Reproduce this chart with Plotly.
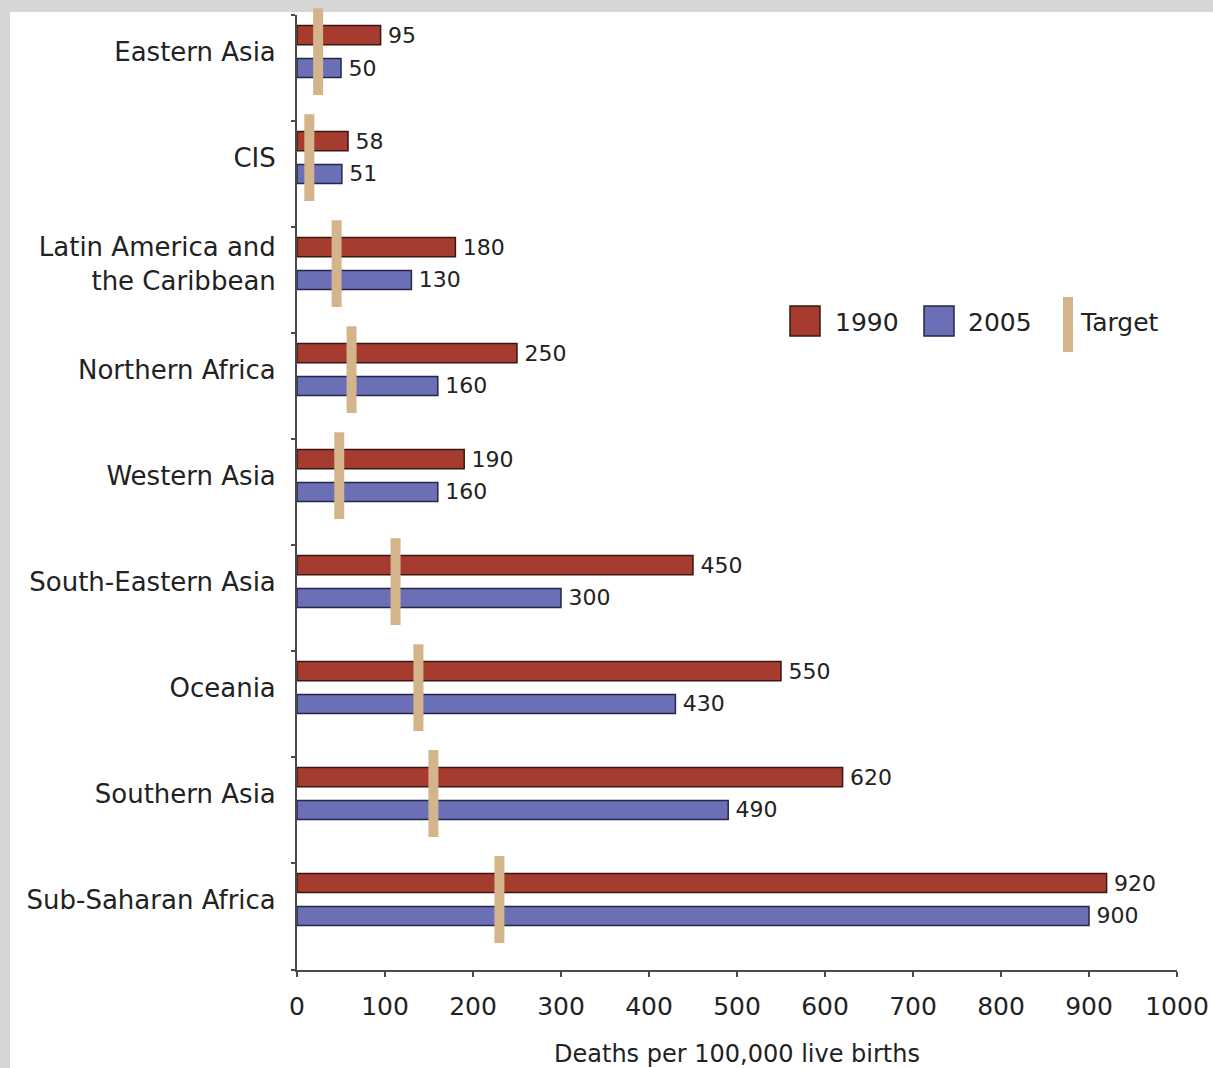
import plotly.graph_objects as go

# Maternal mortality ratio by region
regions = [
    "Eastern Asia",
    "CIS",
    "Latin America and<br>the Caribbean",
    "Northern Africa",
    "Western Asia",
    "South-Eastern Asia",
    "Oceania",
    "Southern Asia",
    "Sub-Saharan Africa",
]
mmr_1990 = [95, 58, 180, 250, 190, 450, 550, 620, 920]
mmr_2005 = [50, 51, 130, 160, 160, 300, 430, 490, 900]
mdg_target = [24, 14, 45, 62, 48, 112, 138, 155, 230]
x_ticks = [0, 100, 200, 300, 400, 500, 600, 700, 800, 900, 1000]

RED = "#a63b2f"
BLUE = "#6b6fb6"
TAN = "#d4b48a"
FONT = "DejaVu Sans"
THIN = "\u2009"  # small gap between bar end and its value

pos = list(range(len(regions)))
off = 0.155
bar_w = 0.18

fig = go.Figure()

fig.add_trace(go.Bar(
    y=[p - off for p in pos], x=mmr_1990, orientation="h", width=bar_w,
    marker=dict(color=RED, line=dict(color="#3a1812", width=1.5)),
    text=[THIN + str(v) for v in mmr_1990], textposition="outside",
    constraintext="none", cliponaxis=False,
    textfont=dict(family=FONT, size=22, color="#222"),
    name="1990", showlegend=False,
))
fig.add_trace(go.Bar(
    y=[p + off for p in pos], x=mmr_2005, orientation="h", width=bar_w,
    marker=dict(color=BLUE, line=dict(color="#26264a", width=1.5)),
    text=[THIN + str(v) for v in mmr_2005], textposition="outside",
    constraintext="none", cliponaxis=False,
    textfont=dict(family=FONT, size=22, color="#222"),
    name="2005", showlegend=False,
))
fig.add_trace(go.Scatter(
    x=mdg_target, y=pos, mode="markers",
    marker=dict(symbol="line-ns", size=62, color=TAN,
                line=dict(color=TAN, width=10)),
    name="Target", showlegend=False, cliponaxis=False,
))

# Hand-built legend: swatches and labels
def px_x(v):
    return (v - 297) / 880.0

def px_y(v):
    return (970 - v) / 955.0

shapes = [
    # white chart panel over the grey backdrop
    dict(type="rect", xref="paper", yref="paper", layer="below",
         x0=px_x(10), x1=1.2, y0=-0.3, y1=px_y(12),
         fillcolor="white", line=dict(width=0)),
    dict(type="rect", xref="paper", yref="paper",
         x0=px_x(790), x1=px_x(820), y0=px_y(336), y1=px_y(306),
         fillcolor=RED, line=dict(color="#3a1812", width=1.5)),
    dict(type="rect", xref="paper", yref="paper",
         x0=px_x(924), x1=px_x(954), y0=px_y(336), y1=px_y(306),
         fillcolor=BLUE, line=dict(color="#26264a", width=1.5)),
    dict(type="rect", xref="paper", yref="paper",
         x0=px_x(1063), x1=px_x(1073), y0=px_y(352), y1=px_y(297),
         fillcolor=TAN, line=dict(width=0)),
]
annotations = []
for label, left in [("1990", 833), ("2005", 966), ("Target", 1078)]:
    annotations.append(dict(
        xref="paper", yref="paper", x=px_x(left), y=px_y(322),
        xanchor="left", yanchor="middle", text=label, showarrow=False,
        font=dict(family=FONT, size=25, color="#222"),
    ))

fig.update_layout(
    width=1213, height=1068,
    margin=dict(l=297, r=36, t=15, b=98),
    paper_bgcolor="#d6d6d6",
    plot_bgcolor="rgba(0,0,0,0)",
    barmode="overlay",
    shapes=shapes,
    annotations=annotations,
    xaxis=dict(
        range=[0, 1000], tickvals=x_ticks, showgrid=False, zeroline=False,
        automargin=False,
        showline=True, linecolor="#4a4a4a", linewidth=2,
        ticks="outside", ticklen=5, tickwidth=2, tickcolor="#4a4a4a",
        ticklabelstandoff=8,
        tickfont=dict(family=FONT, size=25, color="#222"),
        title=dict(text="Deaths per 100,000 live births",
                   font=dict(family=FONT, size=24, color="#222"), standoff=30),
    ),
    yaxis=dict(
        range=[len(regions) - 1 + 0.665, -0.345],
        tickvals=pos, ticktext=regions, ticks="",
        automargin=False,
        showgrid=False, zeroline=False,
        showline=True, linecolor="#4a4a4a", linewidth=2,
        tickfont=dict(family=FONT, size=26, color="#222"),
        ticklabelstandoff=14,
        minor=dict(tickvals=[p - 0.345 for p in pos] + [len(regions) - 1 + 0.665],
                   ticks="outside", ticklen=4, tickwidth=2, tickcolor="#4a4a4a"),
    ),
    font=dict(family=FONT, color="#222"),
)

fig.write_html("out.html")
